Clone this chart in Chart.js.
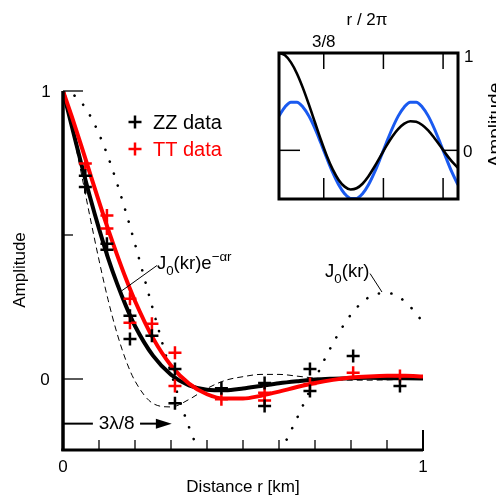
<!DOCTYPE html>
<html>
<head>
<meta charset="utf-8">
<title>Amplitude vs distance</title>
<script src="https://cdn.jsdelivr.net/npm/chart.js@4.4.1/dist/chart.umd.min.js"></script>
<style>
    body { margin: 0; background: #fff; }
    #wrap { position: relative; width: 496px; height: 497px; }
    canvas { position: absolute; left: 0; top: 0; }
    #inset { pointer-events: none; }
</style>
</head>
<body>
<div id="wrap">
    <canvas id="main" width="496" height="497"></canvas>
    <canvas id="inset" width="496" height="497"></canvas>
</div>
<script>
// ---- main panel data (distance r in km, amplitude) ----
const rGrid = [0, 0.025, 0.05, 0.075, 0.1, 0.125, 0.15, 0.175, 0.2, 0.25, 0.3, 0.35, 0.4,
               0.45, 0.5, 0.55, 0.6, 0.65, 0.7, 0.75, 0.8, 0.85, 0.9, 0.95, 1.0];
// J0(kr), dotted
const j0Curve = [1, 0.990, 0.962, 0.915, 0.851, 0.772, 0.680, 0.578, 0.469, 0.241, 0.022, -0.167, -0.307,
                 -0.386, -0.400, -0.355, -0.261, -0.136, -0.001, 0.124, 0.224, 0.284, 0.299, 0.269, 0.198];
// ZZ fit J0(kr)e^-ar, black solid
const zzFit = [1, 0.875, 0.751, 0.632, 0.522, 0.421, 0.332, 0.253, 0.184, 0.081, 0.015, -0.022, -0.037,
               -0.039, -0.033, -0.024, -0.015, -0.008, -0.002, 0.001, 0.003, 0.004, 0.003, 0.0025, 0.002];
// TT fit, red solid
const ttFit = [1, 0.909, 0.813, 0.714, 0.616, 0.521, 0.432, 0.348, 0.271, 0.142, 0.047, -0.016, -0.053,
               -0.068, -0.068, -0.058, -0.044, -0.028, -0.014, -0.003, 0.005, 0.009, 0.011, 0.011, 0.009];
// thin dashed curve
const dashCurve = [1, 0.869, 0.719, 0.563, 0.413, 0.276, 0.159, 0.064, -0.007, -0.085, -0.097, -0.071, -0.033,
                   -0.005, 0.008, 0.016, 0.016, 0.010, 0.003, -0.001, -0.004, -0.004, -0.003, -0.001, 0.000];

// measured points
const zzR = [0.062, 0.062, 0.122, 0.122, 0.186, 0.186, 0.247, 0.311, 0.311, 0.44, 0.56, 0.56, 0.686, 0.686, 0.806, 0.936];
const zzA = [0.706, 0.667, 0.470, 0.449, 0.220, 0.139, 0.150, 0.035, -0.084, -0.032, -0.014, -0.094, 0.035, -0.042, 0.080, -0.024];
const ttR = [0.062, 0.122, 0.122, 0.186, 0.186, 0.247, 0.311, 0.311, 0.44, 0.56, 0.56, 0.686, 0.806, 0.936];
const ttA = [0.748, 0.568, 0.523, 0.279, 0.195, 0.192, 0.091, -0.024, -0.070, -0.048, -0.075, -0.017, 0.022, 0.010];

const xTicks = [0.1, 0.2, 0.3, 0.4, 0.5, 0.6, 0.7, 0.8, 0.9];
const xTickLabels = ['0', '1'];
const yTickLabels = ['0', '1'];

// ---- inset data (r / 2pi, amplitude) ----
const insetU = [0, 0.05, 0.1, 0.15, 0.2, 0.25, 0.3, 0.35, 0.4, 0.45, 0.5, 0.55, 0.6, 0.65, 0.7, 0.75,
                0.8, 0.85, 0.9, 0.95, 1.0, 1.05, 1.1, 1.15, 1.2, 1.25, 1.3, 1.35, 1.4, 1.45, 1.5];
const insetBessel = [1, 0.976, 0.904, 0.790, 0.642, 0.472, 0.291, 0.111, -0.055, -0.196, -0.304, -0.373,
                     -0.402, -0.390, -0.343, -0.266, -0.169, -0.062, 0.045, 0.142, 0.220, 0.274, 0.299,
                     0.294, 0.261, 0.205, 0.129, 0.047, -0.039, -0.117, -0.181];
const insetCos = [0.354, 0.446, 0.494, 0.494, 0.446, 0.354, 0.227, 0.078, -0.078, -0.227, -0.354, -0.446,
                  -0.494, -0.494, -0.446, -0.354, -0.227, -0.078, 0.078, 0.227, 0.354, 0.446, 0.494,
                  0.494, 0.446, 0.354, 0.227, 0.078, -0.078, -0.227, -0.354];
const insetTicks = [3 / 8, 7 / 8, 11 / 8];

const FONT = '"Liberation Sans", Arial, Helvetica, sans-serif';

function pts(xs, ys) {
    return xs.map((x, i) => ({ x: x, y: ys[i] }));
}

// text with subscript / superscript pieces
function drawRich(ctx, x, y, parts, size) {
    ctx.textAlign = 'left';
    ctx.textBaseline = 'alphabetic';
    parts.forEach(p => {
        let s = size, dy = 0;
        if (p.sub) { s = size * 0.72; dy = 6; }
        if (p.sup) { s = size * 0.72; dy = -8; }
        ctx.font = s + 'px ' + FONT;
        ctx.fillText(p.t, x, y + dy);
        x += ctx.measureText(p.t).width;
    });
}

function line(ctx, x1, y1, x2, y2) {
    ctx.beginPath();
    ctx.moveTo(x1, y1);
    ctx.lineTo(x2, y2);
    ctx.stroke();
}

function cross(ctx, cx, cy, h, color) {
    ctx.save();
    ctx.strokeStyle = color;
    ctx.lineWidth = 2.5;
    line(ctx, cx - h, cy, cx + h, cy);
    line(ctx, cx, cy - h, cx, cy + h);
    ctx.restore();
}

// axes, ticks, labels and notes for the main panel
const mainDecor = {
    id: 'mainDecor',
    afterDatasetsDraw(chart) {
        const ctx = chart.ctx;
        const px = v => chart.scales.x.getPixelForValue(v);
        const py = v => chart.scales.y.getPixelForValue(v);
        const yMin = chart.scales.y.min, yMax = chart.scales.y.max;
        ctx.save();
        ctx.strokeStyle = '#000';
        ctx.fillStyle = '#000';

        // axis lines
        ctx.lineWidth = 3.5;
        line(ctx, px(0), py(yMax), px(0), py(yMin));
        ctx.lineWidth = 3;
        line(ctx, px(0) - 1.7, py(yMin) - 1, px(1), py(yMin) - 1);
        ctx.lineWidth = 2;
        line(ctx, px(1), py(yMin), px(1), py(yMin) - 21);

        // inner ticks
        ctx.lineWidth = 1.3;
        xTicks.forEach(v => line(ctx, px(v), py(yMin) - 2, px(v), py(yMin) - 11));
        line(ctx, px(0), py(1), px(0) + 20, py(1));
        line(ctx, px(0), py(0.5), px(0) + 10, py(0.5));
        line(ctx, px(0), py(0), px(0) + 20, py(0));

        // tick labels
        ctx.font = '17px ' + FONT;
        ctx.textAlign = 'center';
        ctx.textBaseline = 'middle';
        ctx.fillText(xTickLabels[0], px(0), 467);
        ctx.fillText(xTickLabels[1], px(1), 467);
        ctx.fillText(yTickLabels[0], 45, py(0) + 1);
        ctx.fillText(yTickLabels[1], 46, py(1) + 1);

        // axis titles
        ctx.fillText('Distance r [km]', 243, 487);
        ctx.save();
        ctx.translate(20, 270);
        ctx.rotate(-Math.PI / 2);
        ctx.fillText('Amplitude', 0, 0);
        ctx.restore();

        // legend
        ctx.font = '20px ' + FONT;
        ctx.textAlign = 'left';
        cross(ctx, 135, 122, 6.5, '#000');
        ctx.fillText('ZZ data', 153, 123);
        cross(ctx, 135, 149, 6.5, '#ff0000');
        ctx.fillStyle = '#ff0000';
        ctx.fillText('TT data', 153, 150);
        ctx.fillStyle = '#000';
        ctx.strokeStyle = '#000';

        // curve labels with leader lines
        drawRich(ctx, px(0.261), py(0.383), [{ t: 'J' }, { t: '0', sub: true }, { t: '(kr)e' }, { t: '\u2212\u03b1r', sup: true }], 18.5);
        ctx.lineWidth = 1;
        line(ctx, px(0.261), py(0.394), px(0.164), py(0.307));
        drawRich(ctx, px(0.728), py(0.355), [{ t: 'J' }, { t: '0', sub: true }, { t: '(kr)' }], 18.5);
        line(ctx, px(0.853), py(0.366), px(0.886), py(0.302));

        // 3 lambda / 8 arrow
        const ay = py(-0.155);
        ctx.lineWidth = 2;
        line(ctx, px(0), ay, px(0.083), ay);
        line(ctx, px(0.214), ay, px(0.262), ay);
        ctx.beginPath();
        ctx.moveTo(px(0.302), ay);
        ctx.lineTo(px(0.258), ay - 5);
        ctx.lineTo(px(0.258), ay + 5);
        ctx.closePath();
        ctx.fill();
        ctx.font = '19px ' + FONT;
        ctx.textAlign = 'center';
        ctx.textBaseline = 'middle';
        ctx.fillText('3\u03bb/8', px(0.149), ay);
        ctx.restore();
    }
};

new Chart(document.getElementById('main'), {
    type: 'scatter',
    data: {
        datasets: [
            {
                label: 'ZZ data', data: pts(zzR, zzA), order: 0,
                pointStyle: 'cross', pointRadius: 6.5, pointBorderWidth: 2.5,
                pointBorderColor: '#000', borderColor: '#000', showLine: false
            },
            {
                label: 'TT data', data: pts(ttR, ttA), order: 1,
                pointStyle: 'cross', pointRadius: 6.5, pointBorderWidth: 2.5,
                pointBorderColor: '#ff0000', borderColor: '#ff0000', showLine: false
            },
            {
                label: 'TT fit', data: pts(rGrid, ttFit), order: 2, showLine: true,
                borderColor: '#ff0000', borderWidth: 4, pointRadius: 0, cubicInterpolationMode: 'monotone'
            },
            {
                label: 'ZZ fit', data: pts(rGrid, zzFit), order: 3, showLine: true,
                borderColor: '#000', borderWidth: 4, pointRadius: 0, cubicInterpolationMode: 'monotone'
            },
            {
                label: 'dashed', data: pts(rGrid, dashCurve), order: 4, showLine: true,
                borderColor: '#000', borderWidth: 1, borderDash: [6, 4], pointRadius: 0,
                cubicInterpolationMode: 'monotone'
            },
            {
                label: 'J0(kr)', data: pts(rGrid, j0Curve), order: 5, showLine: true,
                borderColor: '#000', borderWidth: 2.6, borderDash: [0.1, 12.5], borderCapStyle: 'round',
                pointRadius: 0, cubicInterpolationMode: 'monotone'
            }
        ]
    },
    options: {
        responsive: false,
        animation: false,
        layout: { padding: { left: 63, right: 73, top: 91, bottom: 46 } },
        scales: {
            x: { type: 'linear', min: 0, max: 1, display: false },
            y: { type: 'linear', min: -0.25, max: 1, display: false }
        },
        plugins: { legend: { display: false }, tooltip: { enabled: false } }
    },
    plugins: [mainDecor]
});

// frame, ticks and labels of the inset
const insetDecor = {
    id: 'insetDecor',
    beforeDatasetsDraw(chart) {
        const a = chart.chartArea, ctx = chart.ctx;
        ctx.save();
        ctx.fillStyle = '#fff';
        ctx.fillRect(a.left, a.top, a.right - a.left, a.bottom - a.top);
        ctx.restore();
    },
    afterDatasetsDraw(chart) {
        const a = chart.chartArea, ctx = chart.ctx;
        const px = v => chart.scales.x.getPixelForValue(v);
        const py = v => chart.scales.y.getPixelForValue(v);
        ctx.save();
        ctx.strokeStyle = '#000';
        ctx.fillStyle = '#000';
        ctx.lineWidth = 1.5;
        insetTicks.forEach(v => {
            line(ctx, px(v), a.top, px(v), a.top + 16);
            line(ctx, px(v), a.bottom, px(v), a.bottom - 21);
        });
        line(ctx, a.left, py(0), a.left + 21, py(0));
        line(ctx, a.right, py(0), a.right - 16, py(0));
        ctx.lineWidth = 3;
        ctx.strokeRect(a.left, a.top, a.right - a.left, a.bottom - a.top);

        ctx.font = '17px ' + FONT;
        ctx.textAlign = 'center';
        ctx.textBaseline = 'middle';
        ctx.fillText('r / 2\u03c0', 367, 20);
        ctx.fillText('3/8', px(3 / 8), 42);
        ctx.textAlign = 'left';
        ctx.fillText('1', 464, py(1) + 4);
        ctx.fillText('0', 463, py(0) + 2);
        // right axis title, partly cut off by the page edge
        ctx.save();
        ctx.translate(501, 125);
        ctx.rotate(-Math.PI / 2);
        ctx.textAlign = 'center';
        ctx.textBaseline = 'alphabetic';
        ctx.font = '19px ' + FONT;
        ctx.fillText('Amplitude', 0, 0);
        ctx.restore();
        ctx.restore();
    }
};

new Chart(document.getElementById('inset'), {
    type: 'scatter',
    data: {
        datasets: [
            {
                label: 'J0', data: pts(insetU, insetBessel), showLine: true, order: 0,
                borderColor: '#000', borderWidth: 2.6, pointRadius: 0, cubicInterpolationMode: 'monotone'
            },
            {
                label: 'cos', data: pts(insetU, insetCos), showLine: true, order: 1,
                borderColor: '#1a5af0', borderWidth: 3, pointRadius: 0, cubicInterpolationMode: 'monotone'
            }
        ]
    },
    options: {
        responsive: false,
        animation: false,
        layout: { padding: { left: 279, right: 38, top: 53, bottom: 298 } },
        scales: {
            x: { type: 'linear', min: 0, max: 1.5, display: false },
            y: { type: 'linear', min: -0.5, max: 1, display: false }
        },
        plugins: { legend: { display: false }, tooltip: { enabled: false } }
    },
    plugins: [insetDecor]
});
</script>
</body>
</html>
